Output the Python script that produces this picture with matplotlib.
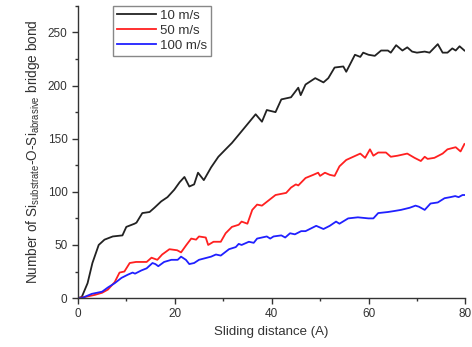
import matplotlib
matplotlib.use('Agg')
import matplotlib.pyplot as plt
from matplotlib.ticker import MultipleLocator

plt.rcParams['font.family'] = ['Liberation Sans', 'DejaVu Sans']
plt.rcParams['mathtext.fontset'] = 'custom'
plt.rcParams['mathtext.rm'] = 'Liberation Sans'

# 10 m/s
x10 = [0, 0.8, 2, 3, 4.3, 5.5, 7.2, 9.2, 10, 11.7, 12.1, 13.3, 14.8, 15.8, 17.2, 18.5, 19.9,
       21, 22, 23, 24, 24.8, 26, 27.5, 29, 30.5, 31.8, 33.8, 36.7, 38, 39, 40.8, 42, 44,
       45.5, 46, 47, 49, 50.7, 51.7, 53, 54.8, 55.4, 57.2, 58.3, 58.9, 60, 61.3, 62.6, 64,
       64.6, 65.7, 67, 68, 69, 70, 71.6, 72.6, 74.3, 75.3, 76.3, 77.3, 78, 78.8, 79.8]
y10 = [0, 1, 14, 33, 50, 55, 58, 59, 67, 70, 71, 80, 81, 85, 91, 95, 102,
       109, 114, 105, 107, 118, 111, 123, 133, 140, 146, 157, 173, 166, 177, 175, 187, 189,
       198, 191, 201, 207, 203, 207, 217, 218, 213, 229, 227, 231, 229, 228, 233, 233,
       231, 238, 233, 236, 232, 231, 232, 231, 239, 231, 231, 235, 233, 237, 233]

# 50 m/s
x50 = [0, 1.4, 3.5, 5, 6.2, 7.6, 8.6, 9.6, 10.7, 12, 14.2, 15.2, 16.4, 17.4, 18.9, 20.5,
       21.3, 22.4, 23.4, 24.4, 25, 26.4, 26.9, 28, 29.5, 30.5, 31.8, 33.2, 33.8, 35, 36,
       37, 38, 39.4, 40.8, 43, 44, 45, 45.5, 47, 48.6, 49.6, 50, 51, 52, 53, 54, 55.4,
       58.3, 59.3, 60.3, 61, 62, 63.6, 64.6, 66, 68, 69.5, 70.8, 71.6, 72.2, 73.6, 75.3,
       76.3, 78, 79, 79.8]
y50 = [0, 1, 3, 5, 8, 15, 24, 25, 33, 34, 34, 38, 36, 41, 46, 45,
       43, 50, 56, 55, 58, 57, 50, 53, 53, 61, 67, 69, 72, 70, 83,
       88, 87, 92, 97, 99, 104, 107, 106, 113, 116, 118, 115, 118, 116, 115, 124, 130,
       136, 132, 140, 134, 137, 137, 133, 134, 136, 132, 129, 133, 131, 132, 136,
       140, 142, 138, 145]

# 100 m/s
x100 = [0, 0.8, 2.9, 5, 6.2, 7.6, 9, 10.3, 11.3, 11.8, 13.1, 14.2, 15.4, 16, 16.6, 17.8,
        19.3, 20.6, 21.3, 22.3, 23, 24, 25, 27.5, 28.5, 29.5, 31.2, 32.6, 33.2, 33.8, 35.3,
        36.3, 37, 39, 39.7, 40.4, 42, 42.8, 43.8, 44.8, 46.1, 47, 49.2, 50.7, 52, 53.3, 54,
        55.8, 57.8, 60, 61, 62, 64, 65.4, 66.7, 68.5, 69.7, 70.4, 71.6, 72.8, 74.3, 75.7,
        76.9, 77.9, 78.6, 79.4, 79.8]
y100 = [0, 0, 4, 6, 10, 14, 19, 22, 24, 23, 26, 28, 33, 32, 30, 34,
        36, 36, 39, 36, 32, 33, 36, 39, 41, 40, 46, 48, 51, 50, 53,
        52, 56, 58, 56, 58, 59, 57, 61, 60, 63, 63, 68, 65, 68, 72, 70,
        75, 76, 75, 75, 80, 81, 82, 83, 85, 87, 86, 83, 89, 90, 94,
        95, 96, 95, 97, 97]

labels = ['10 m/s', '50 m/s', '100 m/s']
colors = ['#222222', '#ff2020', '#2020ff']

fig = plt.figure(figsize=(4.72, 3.47), dpi=100)
ax = fig.add_axes([0.165, 0.141, 0.821, 0.842])

for xs, ys, lab, c in zip([x10, x50, x100], [y10, y50, y100], labels, colors):
    ax.plot(xs, ys, color=c, linewidth=1.3, label=lab)

ax.set_xlim(0, 80)
ax.set_ylim(0, 275)
ax.xaxis.set_major_locator(MultipleLocator(20))
ax.xaxis.set_minor_locator(MultipleLocator(10))
ax.yaxis.set_major_locator(MultipleLocator(50))
ax.yaxis.set_minor_locator(MultipleLocator(25))

for s in ['top', 'right']:
    ax.spines[s].set_visible(False)
for s in ['left', 'bottom']:
    ax.spines[s].set_color('#333333')
    ax.spines[s].set_linewidth(1.0)

ax.tick_params(which='major', length=4, width=1, color='#333333', labelsize=8.5, labelcolor='#333333')
ax.tick_params(which='minor', length=2.5, width=1, color='#333333')

ax.set_xlabel('Sliding distance (A)', fontsize=9.5, color='#333333')
ax.set_ylabel('Number of Si$_\\mathregular{substrate}$-O-Si$_\\mathregular{abrasive}$ bridge bond',
              fontsize=9.8, color='#333333')

leg = ax.legend(loc='upper left', bbox_to_anchor=(0.09, 1.0), borderaxespad=0, fontsize=9.5,
                fancybox=False, framealpha=1, edgecolor='#888888', handlelength=3.0,
                handletextpad=0.3, labelspacing=0.2, borderpad=0.3)
for t in leg.get_texts():
    t.set_color('#333333')

fig.savefig('out.png', dpi=100)
